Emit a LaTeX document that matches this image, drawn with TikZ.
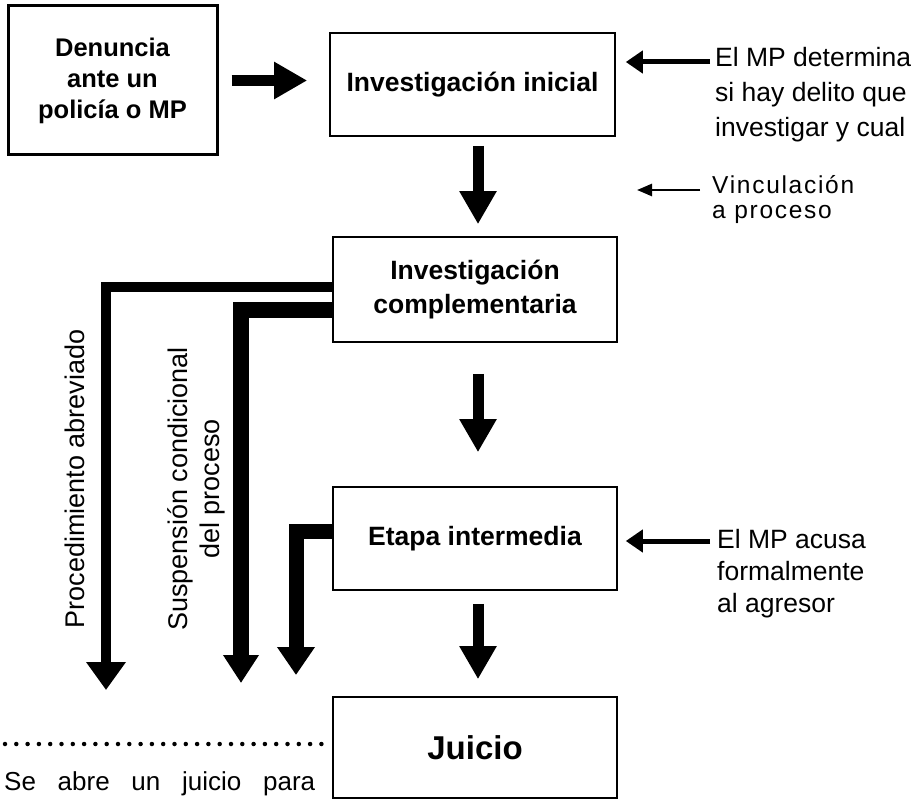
\documentclass[tikz,border=0pt]{standalone}
\usepackage{fontspec}
\setmainfont{Liberation Sans}
\usetikzlibrary{arrows.meta}
\begin{document}
\begin{tikzpicture}[x=1pt,y=-1pt,
  box/.style={draw, line width=1.6pt, minimum width=284pt, minimum height=103pt, inner sep=0pt,
    align=center, font=\fontsize{26.5}{34}\selectfont\bfseries},
  txt/.style={inner sep=0pt, align=left, font=\fontsize{26.5}{35}\selectfont},
  rot/.style={inner sep=0pt, rotate=90, align=center, font=\fontsize{27}{32}\selectfont},
  fat/.style={line width=10.5pt, -{Triangle[length=33pt,width=35pt]}},
  side/.style={line width=5pt, -{Triangle[length=17pt,width=22pt]}},
  slim/.style={line width=2.5pt, -{Triangle[length=15pt,width=12pt]}},
  branch/.style={line join=miter, line cap=butt}
]
\fill[white] (0,0) rectangle (920,802);
\useasboundingbox (0,0) rectangle (920,802);

% boxes
\node[box, line width=3pt, minimum width=209pt, minimum height=149pt,
  font=\fontsize{25.5}{31}\selectfont\bfseries] (den) at (112.5,80.5) {Denuncia\\ante un\\policía o MP};
\node[box, minimum width=285pt] (ini) at (472.5,84.5) {Investigación inicial};
\node[box, minimum height=105pt] (comp) at (475,289.5) {Investigación\\complementaria};
\node[box] (eta) at (475,538.5) {Etapa intermedia};
\node[box, minimum height=101pt, font=\fontsize{33}{38}\selectfont\bfseries] (jui) at (475,747.5) {Juicio};

% right-hand notes
\node[txt, anchor=base west] (t1) at (715,137) {El MP determina\\si hay delito que\\investigar y cual};
\node[txt, anchor=base west, font=\fontsize{24.5}{25}\selectfont\addfontfeatures{LetterSpace=7}] (t2) at (712,219) {Vinculación\\a proceso};
\node[txt, anchor=base west, font=\fontsize{26.5}{32}\selectfont] (t3) at (717,612) {El MP acusa\\formalmente\\al agresor};

% rotated labels
\node[rot, anchor=base] (pa) at (84,479) {Procedimiento abreviado};
\node[rot] (sc) at (196,489) {Suspensión condicional\\del proceso};

% main flow arrows
\draw[fat, shorten <=13pt, shorten >=22pt] (den.east) -- (den.east -| ini.west);
\draw[fat, line width=11pt, shorten <=9pt, shorten >=12pt] (ini.south -| 478,0) -- (comp.north -| 478,0);
\draw[fat, line width=11pt, shorten <=31pt, shorten >=34pt] (comp.south -| 478,0) -- (eta.north -| 478,0);
\draw[fat, line width=11pt, shorten <=13pt, shorten >=17pt] (eta.south -| 478,0) -- (jui.north -| 478,0);

% side arrows
\draw[side, shorten <=5pt, shorten >=10pt] (t1.west |- 0,62) -- (ini.east |- 0,62);
\coordinate (v) at (637,190);
\draw[slim, shorten <=12pt] (t2.west |- v) -- (v);
\draw[side, shorten <=7pt, shorten >=8pt] (t3.west |- 0,541) -- (eta.east |- 0,541);

% branches
\coordinate (e1) at (106,690);
\coordinate (e2) at (241,683);
\coordinate (e3) at (296,675);
\draw[branch, line width=10pt, -{Triangle[length=28pt,width=38pt]}] (comp.west |- 0,287) -| (e1);
\draw[branch, line width=16pt, -{Triangle[length=28pt,width=34pt]}] (comp.west |- 0,310) -| (e2);
\draw[branch, line width=15pt, -{Triangle[length=28pt,width=36pt]}] (eta.west |- 0,531) -| (e3);

% dotted rule and text
\coordinate (d0) at (5,744);
\draw[line width=4.5pt, line cap=round, dash pattern=on 0pt off 11.3pt, shorten >=10pt] (d0) -- (jui.west |- d0);
\node[anchor=base west, inner sep=0pt, font=\fontsize{26}{30}\selectfont] (se) at (4,790)
  {\makebox[311pt][s]{Se abre un juicio para}};
\end{tikzpicture}
\end{document}
